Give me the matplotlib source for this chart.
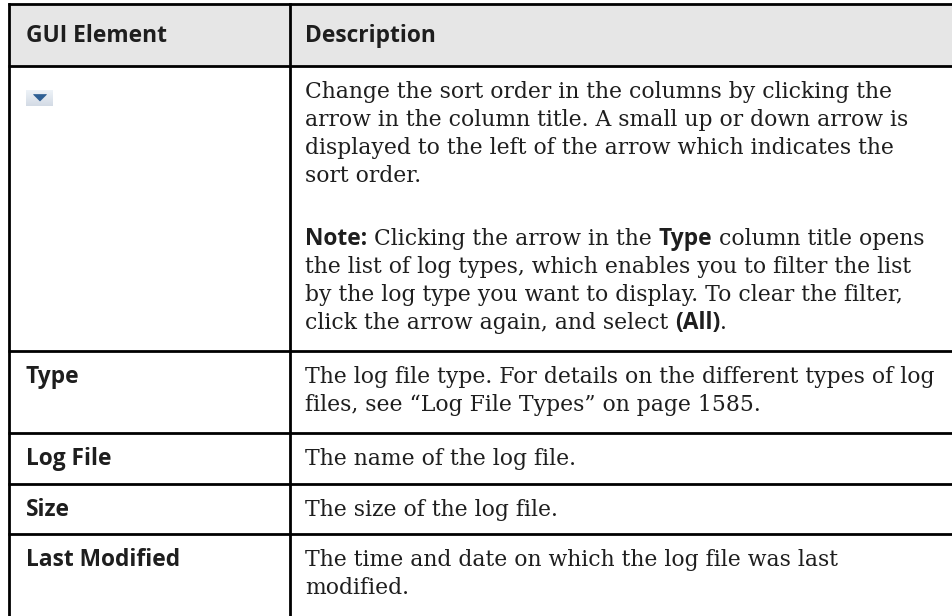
import matplotlib
matplotlib.use("Agg")
import numpy as np
import matplotlib.pyplot as plt
from matplotlib.patches import Rectangle, Polygon

# ---------------- data (table text) ----------------
headers = ["GUI Element", "Description"]
gui_elements = ["", "Type", "Log File", "Size", "Last Modified"]
icon_rows = [0]  # row index whose element is the sort-arrow icon

# each description: list of paragraphs; each paragraph: list of lines;
# each line: list of (text, style) runs  ('r' = serif, 'b' = bold sans)
descriptions = [
    [
        [
            [("Change the sort order in the columns by clicking the", "r")],
            [("arrow in the column title. A small up or down arrow is", "r")],
            [("displayed to the left of the arrow which indicates the", "r")],
            [("sort order.", "r")],
        ],
        [
            [("Note:", "b"), (" Clicking the arrow in the ", "r"), ("Type", "b"),
             (" column title opens", "r")],
            [("the list of log types, which enables you to filter the list", "r")],
            [("by the log type you want to display. To clear the filter,", "r")],
            [("click the arrow again, and select ", "r"), ("(All)", "b"), (".", "r")],
        ],
    ],
    [
        [
            [("The log file type. For details on the different types of log", "r")],
            [("files, see \u201cLog File Types\u201d on page 1585.", "r")],
        ]
    ],
    [[[("The name of the log file.", "r")]]],
    [[[("The size of the log file.", "r")]]],
    [
        [
            [("The time and date on which the log file was last", "r")],
            [("modified.", "r")],
        ]
    ],
]

# ---------------- layout / style ----------------
W, H = 953, 616
row_edges = [4, 66, 351, 433, 484, 534, 660]
x_left, x_div, x_right = 9.5, 290, 960
x_col1, x_col2 = 26, 305
header_baseline = 42
first_baseline = 32
line_step = 28
para_gap = 35
header_bg = "#e6e6e6"
text_col = "#1e1e1e"
border_lw = 2.0

SERIF = "DejaVu Serif"
SANS = "Open Sans"

fig = plt.figure(figsize=(W / 100, H / 100), dpi=100)
ax = fig.add_axes([0, 0, 1, 1])
ax.set_xlim(0, W)
ax.set_ylim(H, 0)
ax.axis("off")
renderer = fig.canvas.get_renderer()


def text_width(s, **kw):
    t = ax.text(0, 0, s, **kw)
    w = t.get_window_extent(renderer).width
    t.remove()
    return w


base_r = dict(family=SERIF, fontweight="normal", fontstretch="normal")
base_b = dict(family=SANS, fontweight="bold", fontstretch="normal")

# fit font sizes to the widths measured on the reference
fs_r = 10 * 590.0 / text_width("Change the sort order in the columns by clicking the",
                               fontsize=10, **base_r)
fs_b = 10 * 141.0 / text_width("GUI Element", fontsize=10, **base_b)

styles = {"r": dict(fontsize=fs_r, **base_r), "b": dict(fontsize=fs_b, **base_b)}
space_r = text_width("x x", **styles["r"]) - text_width("xx", **styles["r"])


def draw_runs(x, y, runs):
    for txt, st in runs:
        lead = len(txt) - len(txt.lstrip(" "))
        trail = len(txt) - len(txt.rstrip(" "))
        core = txt.strip(" ")
        x += lead * space_r
        if core:
            t = ax.text(x, y, core, va="baseline", ha="left", color=text_col, **styles[st])
            x += t.get_window_extent(renderer).width
        x += trail * space_r


# header background
ax.add_patch(Rectangle((x_left, row_edges[0]), x_right - x_left,
                       row_edges[1] - row_edges[0], facecolor=header_bg,
                       edgecolor="none", zorder=0))

# header text
draw_runs(x_col1, header_baseline, [(headers[0], "b")])
draw_runs(x_col2, header_baseline, [(headers[1], "b")])

# body rows
for i, (elem, desc) in enumerate(zip(gui_elements, descriptions)):
    top = row_edges[i + 1]
    base = top + first_baseline
    if i in icon_rows:
        # sort-arrow icon
        grad = np.linspace(0.0, 1.0, 16)[:, None] * np.ones((1, 27))
        cols = np.zeros((16, 27, 3))
        c0, c1 = np.array([0.93, 0.95, 0.97]), np.array([0.83, 0.86, 0.90])
        for k in range(3):
            cols[:, :, k] = c0[k] + (c1[k] - c0[k]) * grad
        ax.imshow(cols, extent=(26, 53, 106, 90), aspect="auto", zorder=1,
                  interpolation="bilinear")
        ax.add_patch(Polygon([(33.5, 94.5), (46.5, 94.5), (40, 101)],
                             closed=True, facecolor="#2e5f94",
                             edgecolor="#2e5f94", lw=0.5, zorder=2))
    else:
        draw_runs(x_col1, base, [(elem, "b")])
    y = base
    for p, para in enumerate(desc):
        if p > 0:
            y += para_gap
        for line in para:
            draw_runs(x_col2, y, line)
            y += line_step

ax.set_xlim(0, W)
ax.set_ylim(H, 0)

# borders
for ye in row_edges[:-1]:
    ax.plot([x_left - 1, x_right], [ye, ye], color="black", lw=border_lw,
            solid_capstyle="butt", zorder=5)
ax.plot([x_left, x_left], [row_edges[0], H + 5], color="black", lw=border_lw, zorder=5)
ax.plot([x_div, x_div], [row_edges[0], H + 5], color="black", lw=border_lw, zorder=5)

fig.savefig("out.png", dpi=100, facecolor="white")
